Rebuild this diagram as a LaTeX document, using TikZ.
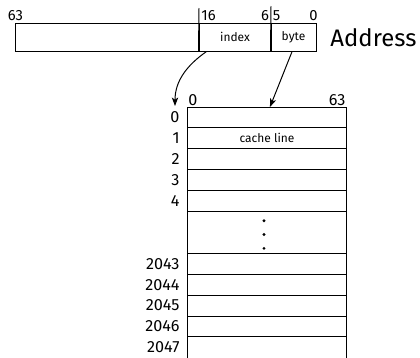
\documentclass[tikz,border=0pt]{standalone}
\usepackage{fontspec}
\setmainfont{Fira Sans}
\usetikzlibrary{arrows.meta}

\begin{document}
\begin{tikzpicture}[x=0.025cm,y=-0.025cm,line width=0.7pt,
  >={Stealth[length=6pt,width=4.5pt,inset=1.5pt]},
  field/.style={draw,minimum height=0.7cm,inner sep=0pt,font=\fontsize{8.5}{10}\selectfont},
  row/.style={draw,minimum width=3.95cm,minimum height=0.5225cm,inner sep=0pt,outer sep=0pt,font=\fontsize{8.5}{10}\selectfont},
  num/.style={font=\fontsize{11.5}{13}\selectfont,inner sep=0pt},
  bit/.style={font=\fontsize{10.5}{12}\selectfont,inner sep=0pt}]
\useasboundingbox (0,0) rectangle (420,357);

\node[field,minimum width=4.575cm] (high) at (107.5,37) {};
\node[field,minimum width=1.8cm] (index) at (235,37) {index};
\node[field,minimum width=1.125cm] (byte) at (293.5,37) {byte};
\node[font=\fontsize{17}{20}\selectfont,inner sep=0pt,anchor=base west] (addr) at (330,46.7) {Address};

\coordinate (t16) at (199,8);
\coordinate (t6) at (271,6);
\draw (t16) -- (index.south west);
\draw (t6) -- (byte.south west);

\node[bit,anchor=base] (b63) at (15.5,20) {63};
\node[bit,anchor=base west] (b16) at (201,20) {16};
\node[bit,anchor=base east] (b6) at (269.5,20) {6};
\node[bit,anchor=base west] (b5) at (272.5,20) {5};
\node[bit,anchor=base] (b0) at (313.5,20) {0};

\node[row] (r0) at (267,117.45) {};
\node[row] (r1) at (267,138.35) {cache line};
\node[row] (r2) at (267,159.25) {};
\node[row] (r3) at (267,180.15) {};
\node[row] (r4) at (267,201.05) {};
\node[row,minimum height=1.045cm] (rdots) at (267,232.4) {};
\node[row] (r2043) at (267,263.75) {};
\node[row] (r2044) at (267,284.65) {};
\node[row] (r2045) at (267,305.55) {};
\node[row] (r2046) at (267,326.45) {};
\node[row,minimum height=0.6cm,anchor=north] (r2047) at (r2046.south) {};

\fill (264,220.7) circle[radius=1.1pt];
\fill (264,234.5) circle[radius=1.1pt];
\fill (264,248.3) circle[radius=1.1pt];

\node[num,anchor=east] (l0) at (180,117.45) {0};
\node[num,anchor=east] (l1) at (180,138.35) {1};
\node[num,anchor=east] (l2) at (180,159.25) {2};
\node[num,anchor=east] (l3) at (180,180.15) {3};
\node[num,anchor=east] (l4) at (180,201.05) {4};
\node[num,anchor=east] (l2043) at (180,263.75) {2043};
\node[num,anchor=east] (l2044) at (180,284.65) {2044};
\node[num,anchor=east] (l2045) at (180,305.55) {2045};
\node[num,anchor=east] (l2046) at (180,326.45) {2046};
\node[num,anchor=east] (l2047) at (180,347.35) {2047};

\node[num,anchor=base west] (c0) at (188,105) {0};
\node[num,anchor=base east] (c63) at (346,105) {63};

\coordinate (iin) at (175,106);
\draw[->] ([xshift=5.7pt]index.south west) to[out=-145,in=90] (iin);
\draw[->] ([xshift=-1pt]byte.south) -- ([xshift=2.1pt]r0.north);
\end{tikzpicture}
\end{document}
